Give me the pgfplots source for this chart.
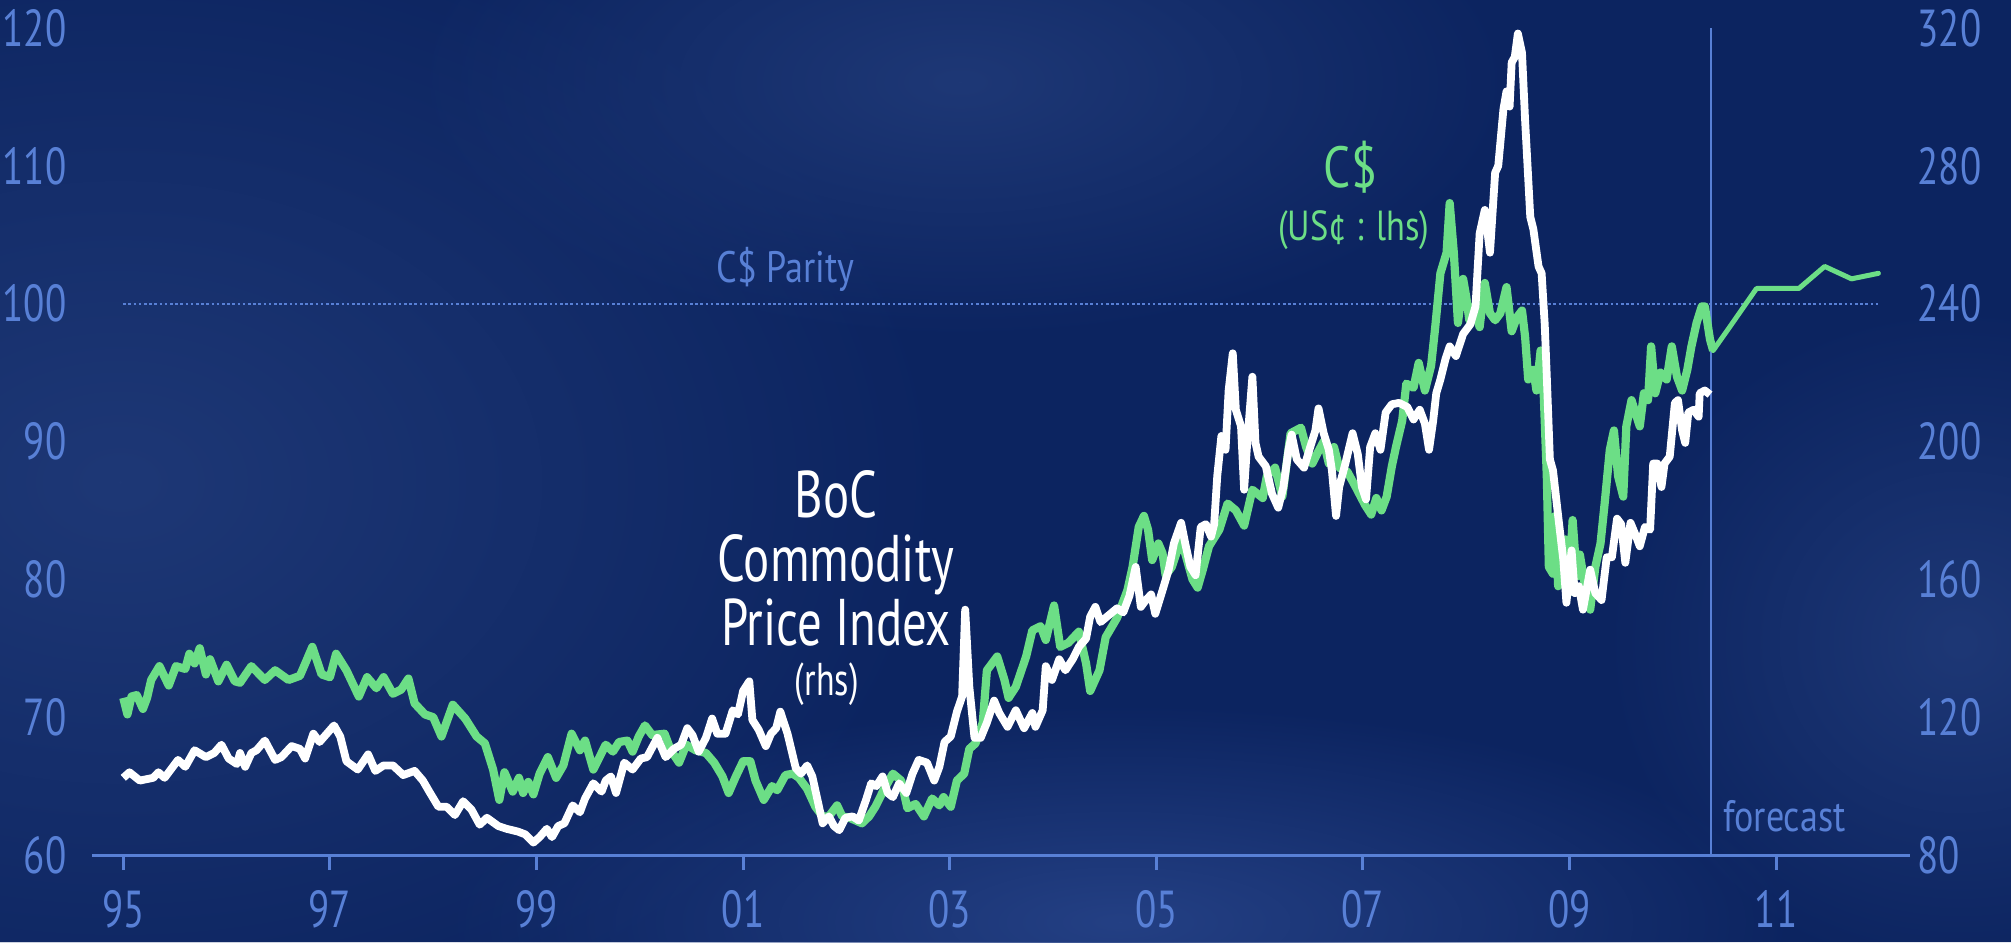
\documentclass[border=0pt]{standalone}
\usepackage{fontspec}
\setmainfont{PT Sans}
\newfontfamily\condA[FakeStretch=0.74]{PT Sans}
\newfontfamily\condB[FakeStretch=0.82]{PT Sans}
\newfontfamily\condT[FakeStretch=0.75]{PT Sans}
\usepackage{pgfplots}
\usepackage{pgfplotstable}
\usetikzlibrary{fadings}
\pgfplotsset{compat=1.18}
\definecolor{bgbase}{RGB}{12,36,96}
\definecolor{bglight}{RGB}{30,56,118}
\definecolor{bglight2}{RGB}{36,64,132}
\definecolor{lblue}{RGB}{88,128,214}
\definecolor{cgreen}{RGB}{108,222,134}
\tikzfading[name=softblob, inner color=transparent!0, outer color=transparent!100]

% C$ in US cents (lhs)
\pgfplotstableread{
year val
1995.00 71.4
1995.04 70.2
1995.08 71.5
1995.13 71.6
1995.19 70.6
1995.23 71.4
1995.27 72.7
1995.35 73.7
1995.44 72.3
1995.51 73.7
1995.60 73.5
1995.64 74.6
1995.69 73.9
1995.74 75.0
1995.80 73.1
1995.84 74.2
1995.92 72.6
1996.00 73.8
1996.08 72.6
1996.13 72.5
1996.24 73.7
1996.37 72.7
1996.47 73.4
1996.60 72.7
1996.71 73.0
1996.83 75.1
1996.92 73.1
1997.00 72.9
1997.06 74.6
1997.16 73.4
1997.28 71.5
1997.36 72.9
1997.45 72.1
1997.52 72.9
1997.61 71.7
1997.69 72.0
1997.76 72.8
1997.82 71.0
1997.92 70.2
1998.00 70.0
1998.08 68.6
1998.19 70.9
1998.31 69.9
1998.42 68.6
1998.50 68.1
1998.58 66.2
1998.64 64.0
1998.69 66.0
1998.77 64.6
1998.83 65.6
1998.87 64.5
1998.92 65.3
1998.97 64.4
1999.03 65.9
1999.11 67.1
1999.19 65.6
1999.26 66.5
1999.34 68.8
1999.42 67.6
1999.47 68.3
1999.55 66.2
1999.63 67.4
1999.67 68.0
1999.74 67.5
1999.80 68.2
1999.88 68.3
1999.93 67.5
1999.99 68.6
2000.05 69.4
2000.12 68.7
2000.24 68.8
2000.30 67.6
2000.38 66.7
2000.45 68.0
2000.54 67.6
2000.64 67.4
2000.72 66.7
2000.80 65.7
2000.86 64.5
2000.93 65.7
2001.00 66.8
2001.07 66.8
2001.12 65.4
2001.20 64.0
2001.28 65.0
2001.33 64.7
2001.41 65.8
2001.48 65.9
2001.54 65.6
2001.62 64.8
2001.70 63.5
2001.77 62.8
2001.83 62.8
2001.91 63.6
2001.96 62.8
2002.03 62.7
2002.15 62.3
2002.22 62.8
2002.28 63.5
2002.36 64.7
2002.45 65.9
2002.53 65.4
2002.59 63.4
2002.67 63.7
2002.75 62.8
2002.83 64.1
2002.90 63.6
2002.94 64.2
2003.01 63.5
2003.07 65.4
2003.14 65.9
2003.19 67.7
2003.25 68.1
2003.32 69.6
2003.36 73.4
2003.46 74.4
2003.53 72.7
2003.57 71.4
2003.64 72.2
2003.74 74.4
2003.80 76.3
2003.88 76.6
2003.93 75.6
2004.01 78.1
2004.07 75.1
2004.15 75.4
2004.25 76.2
2004.32 73.9
2004.36 71.9
2004.45 73.4
2004.51 75.8
2004.62 77.2
2004.72 79.2
2004.77 80.9
2004.83 83.8
2004.88 84.6
2004.92 83.6
2004.96 81.4
2005.02 82.6
2005.06 81.9
2005.09 80.3
2005.15 80.9
2005.24 82.9
2005.29 81.6
2005.35 80.0
2005.40 79.4
2005.45 80.7
2005.51 82.4
2005.61 83.6
2005.69 85.5
2005.77 85.0
2005.85 83.9
2005.93 86.5
2006.03 85.9
2006.07 87.5
2006.15 88.1
2006.22 86.0
2006.30 90.6
2006.40 91.0
2006.45 89.6
2006.51 88.4
2006.57 89.3
2006.62 90.0
2006.67 88.4
2006.72 89.6
2006.77 88.1
2006.85 87.8
2006.93 86.7
2007.02 85.4
2007.08 84.7
2007.13 85.9
2007.18 85.0
2007.23 86.0
2007.28 88.2
2007.32 89.6
2007.38 91.5
2007.42 94.2
2007.49 93.9
2007.54 95.7
2007.60 93.7
2007.66 95.5
2007.70 98.3
2007.75 102.2
2007.81 103.7
2007.84 107.3
2007.88 103.7
2007.92 98.6
2007.97 101.8
2008.00 100.5
2008.03 98.8
2008.07 99.8
2008.13 98.3
2008.18 101.5
2008.23 99.3
2008.28 98.8
2008.33 99.3
2008.39 101.2
2008.44 98.0
2008.49 99.0
2008.54 99.5
2008.57 97.6
2008.60 94.5
2008.65 95.2
2008.68 93.7
2008.72 96.6
2008.75 93.5
2008.78 87.5
2008.80 80.9
2008.84 80.4
2008.86 84.6
2008.89 79.5
2008.96 82.9
2008.99 79.0
2009.03 84.3
2009.07 80.2
2009.10 81.8
2009.15 79.5
2009.20 77.8
2009.25 80.9
2009.30 82.6
2009.34 85.5
2009.39 89.4
2009.43 90.8
2009.47 87.5
2009.52 86.0
2009.55 91.1
2009.60 93.0
2009.65 91.8
2009.68 91.1
2009.72 93.5
2009.76 93.0
2009.79 96.9
2009.83 93.5
2009.88 95.0
2009.94 94.5
2009.99 96.9
2010.04 94.7
2010.09 93.7
2010.14 95.2
2010.18 96.9
2010.23 98.6
2010.28 99.8
2010.31 99.8
2010.36 97.4
2010.39 96.6
}\cadtable

% C$ forecast (lhs)
\pgfplotstableread{
year val
2010.39 96.6
2010.55 98.3
2010.81 101.1
2011.22 101.1
2011.47 102.7
2011.73 101.8
2011.99 102.2
}\fcsttable

% BoC Commodity Price Index (rhs)
\pgfplotstableread{
year val
1995.00 102.4
1995.06 104.0
1995.16 101.6
1995.29 102.4
1995.34 104.0
1995.40 102.4
1995.53 107.6
1995.60 105.6
1995.69 110.4
1995.80 108.4
1995.88 109.6
1995.95 112.0
1996.02 108.0
1996.10 106.4
1996.13 109.6
1996.18 105.6
1996.24 109.6
1996.29 110.4
1996.37 113.2
1996.47 107.6
1996.53 108.4
1996.63 111.6
1996.71 110.8
1996.76 108.0
1996.84 115.2
1996.90 112.8
1996.97 115.2
1997.04 117.6
1997.10 114.4
1997.16 107.2
1997.27 104.8
1997.37 109.2
1997.44 104.4
1997.52 106.0
1997.61 106.0
1997.71 103.2
1997.82 104.4
1997.90 101.6
1997.97 98.0
1998.05 94.0
1998.13 94.0
1998.21 91.6
1998.29 95.6
1998.37 93.2
1998.45 88.8
1998.52 90.8
1998.63 88.4
1998.71 87.6
1998.82 86.8
1998.89 86.0
1998.97 83.6
1999.03 85.2
1999.10 87.6
1999.15 85.2
1999.21 88.4
1999.27 89.2
1999.35 94.4
1999.42 92.4
1999.47 96.4
1999.55 100.8
1999.63 98.4
1999.67 101.6
1999.72 102.8
1999.77 98.0
1999.85 106.8
1999.93 104.8
2000.01 108.0
2000.07 108.4
2000.17 114.0
2000.25 108.4
2000.33 110.8
2000.40 112.0
2000.46 116.8
2000.51 114.8
2000.57 110.0
2000.64 114.0
2000.70 119.6
2000.75 115.2
2000.83 115.2
2000.90 122.0
2000.95 120.8
2001.00 127.6
2001.06 130.4
2001.09 119.2
2001.15 116.4
2001.22 111.6
2001.27 115.2
2001.32 116.8
2001.36 121.6
2001.43 115.2
2001.51 105.2
2001.56 103.6
2001.62 106.0
2001.67 102.8
2001.72 96.0
2001.77 89.2
2001.83 91.2
2001.88 88.4
2001.93 87.2
2001.99 90.8
2002.06 91.2
2002.12 90.0
2002.19 96.0
2002.24 100.8
2002.29 100.0
2002.35 102.8
2002.40 98.0
2002.45 96.8
2002.51 100.8
2002.58 98.0
2002.64 103.6
2002.70 107.6
2002.78 106.8
2002.85 101.6
2002.90 105.6
2002.95 112.8
2003.01 114.4
2003.07 121.6
2003.12 126.0
2003.15 151.2
2003.19 128.8
2003.24 114.0
2003.30 114.0
2003.36 118.4
2003.43 124.8
2003.48 121.2
2003.56 117.2
2003.64 122.0
2003.72 116.8
2003.80 121.2
2003.83 117.2
2003.90 122.0
2003.93 134.8
2003.99 130.8
2004.06 136.8
2004.12 133.6
2004.19 136.8
2004.25 140.4
2004.32 142.8
2004.36 149.2
2004.41 152.0
2004.46 147.6
2004.54 149.6
2004.62 151.6
2004.68 150.4
2004.74 155.2
2004.80 163.6
2004.85 152.0
2004.90 154.0
2004.95 155.6
2004.99 150.0
2005.06 156.8
2005.12 162.8
2005.17 170.4
2005.24 176.4
2005.28 170.4
2005.33 163.6
2005.38 161.2
2005.43 175.2
2005.48 176.0
2005.53 172.4
2005.56 176.0
2005.59 190.0
2005.63 201.6
2005.67 197.6
2005.70 214.8
2005.74 225.6
2005.77 209.2
2005.82 204.4
2005.85 186.0
2005.88 199.6
2005.93 218.8
2005.96 199.6
2005.99 195.6
2006.06 192.8
2006.12 184.8
2006.18 180.8
2006.23 186.8
2006.28 197.6
2006.31 202.0
2006.36 194.8
2006.43 192.4
2006.49 198.4
2006.54 203.2
2006.57 209.6
2006.62 202.4
2006.67 197.6
2006.70 191.6
2006.74 178.4
2006.77 186.8
2006.83 193.6
2006.90 202.4
2006.95 196.4
2006.99 186.8
2007.03 183.2
2007.07 198.4
2007.12 202.4
2007.17 197.6
2007.22 208.4
2007.28 210.8
2007.35 211.2
2007.43 210.0
2007.49 206.4
2007.55 209.2
2007.60 205.2
2007.64 197.6
2007.68 206.0
2007.71 214.0
2007.75 218.0
2007.80 224.0
2007.84 227.6
2007.90 224.8
2007.97 231.2
2008.04 234.0
2008.09 239.2
2008.13 260.4
2008.18 267.2
2008.23 254.8
2008.28 278.0
2008.31 280.0
2008.36 296.4
2008.39 301.6
2008.42 297.2
2008.44 310.0
2008.47 311.6
2008.50 318.4
2008.54 312.8
2008.57 293.2
2008.62 265.2
2008.65 261.6
2008.70 250.8
2008.73 248.8
2008.76 234.0
2008.78 218.8
2008.81 194.8
2008.84 191.6
2008.89 178.4
2008.94 165.6
2008.97 153.2
2009.02 168.4
2009.05 156.0
2009.09 158.0
2009.13 151.2
2009.20 162.8
2009.25 156.0
2009.31 154.0
2009.36 166.4
2009.41 166.4
2009.46 177.6
2009.50 176.0
2009.54 164.8
2009.59 176.4
2009.64 172.8
2009.68 169.6
2009.73 175.2
2009.78 174.4
2009.81 193.6
2009.85 193.6
2009.89 186.8
2009.92 193.6
2009.97 195.6
2010.02 211.2
2010.05 212.0
2010.09 203.2
2010.12 199.6
2010.15 208.4
2010.20 209.2
2010.25 207.2
2010.26 214.0
2010.31 214.8
2010.36 213.6
}\boctable

\pgfplotsset{
  baseaxis/.style={
    at={(46.15pt,43.5pt)}, anchor=south west,
    scale only axis, width=909.05pt, height=413.5pt,
    xmin=1994.7, xmax=2012.3, clip=false,
    /pgf/number format/assume math mode=true,
    /pgf/number format/1000 sep={},
    ticklabel style={font=\condT\fontsize{26}{26}\selectfont, text=lblue},
    axis line style={-},
  }
}

\begin{document}
\begin{tikzpicture}
% background
\fill[bgbase] (0pt,0pt) rectangle (1005.5pt,471pt);
\fill[bglight, path fading=softblob] (60pt,230pt) ellipse [x radius=420pt, y radius=300pt];
\fill[bglight, path fading=softblob] (480pt,430pt) ellipse [x radius=280pt, y radius=130pt];
\fill[bglight2, path fading=softblob] (560pt,10pt) ellipse [x radius=340pt, y radius=110pt];
\fill[bglight, path fading=softblob] (980pt,150pt) ellipse [x radius=180pt, y radius=170pt];

\begin{axis}[baseaxis, ymin=60, ymax=120,
  axis lines*=left,
  x axis line style={lblue, line width=1.5pt},
  y axis line style={draw=none},
  xtick={1995,1997,...,2011},
  xticklabels={95,97,99,01,03,05,07,09,11},
  ytick={60,70,...,120},
  tick align=outside, major tick length=7.5pt,
  xtick style={lblue, line width=1.5pt},
  ytick style={draw=none},
  xticklabel style={yshift=-6.5pt},
  yticklabel style={xshift=-2pt},
]
\addplot[lblue, line width=0.9pt, dash pattern=on 1.3pt off 1.3pt] coordinates {(1995,100) (2012,100)};
\addplot[lblue, line width=1.4pt] coordinates {(2010.37,60) (2010.37,120)};
\addplot[cgreen, line width=4.1pt, line join=round] table[x=year, y=val] {\cadtable};
\addplot[cgreen, line width=2.5pt, line join=round, line cap=round] table[x=year, y=val] {\fcsttable};

\node[white, align=center, font=\condA\fontsize{33}{32}\selectfont] at (axis cs:2001.9,81.55) {BoC\\Commodity\\Price Index};
\node[white, font=\condA\fontsize{23}{23}\selectfont] at (axis cs:2001.81,72.4) {(rhs)};
\node[lblue, font=\condB\fontsize{22}{22}\selectfont] at (axis cs:2001.41,102.5) {C\$ Parity};
\node[cgreen, font=\condB\fontsize{29}{29}\selectfont] at (axis cs:2006.88,109.9) {C\$};
\node[cgreen, font=\condB\fontsize{21}{21}\selectfont] at (axis cs:2006.91,105.3) {(US¢ : lhs)};
\node[lblue, anchor=west, font=\condB\fontsize{22}{22}\selectfont] at (axis cs:2010.42,62.8) {forecast};
\end{axis}

\begin{axis}[baseaxis, ymin=80, ymax=320,
  axis y line*=right, axis x line=none,
  y axis line style={draw=none},
  ytick={80,120,...,320},
  ytick style={draw=none},
  yticklabel style={xshift=0pt},
]
\addplot[white, line width=3.9pt, line join=round] table[x=year, y=val] {\boctable};
\end{axis}

\pgfresetboundingbox
\useasboundingbox (0pt,0pt) rectangle (1005.5pt,471pt);
\end{tikzpicture}
\end{document}
